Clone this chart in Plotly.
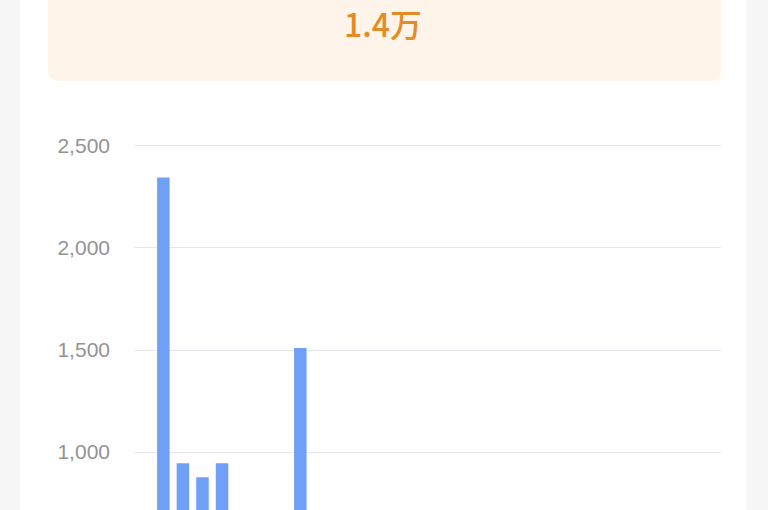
import plotly.graph_objects as go

# daily counts for the month (only the days above ~700 are visible in the crop)
days = [f"{d}日" for d in range(1, 31)]
counts = [520, 2345, 945, 876, 945, 610, 480, 560, 1510, 430,
          390, 350, 300, 280, 320, 260, 240, 300, 310, 270,
          250, 230, 220, 260, 240, 210, 200, 230, 190, 200]

total_wan = round(sum(counts) / 10000, 1)
total_label = f"{total_wan}万"

W, H = 768, 510


def px(x, y):
    return f"{x / W:.5f},{1 - y / H:.5f}"


def rounded_box(x0, y0, x1, y1, r):
    return (f"M{px(x0 + r, y0)} L{px(x1 - r, y0)} Q{px(x1, y0)} {px(x1, y0 + r)} "
            f"L{px(x1, y1 - r)} Q{px(x1, y1)} {px(x1 - r, y1)} "
            f"L{px(x0 + r, y1)} Q{px(x0, y1)} {px(x0, y1 - r)} "
            f"L{px(x0, y0 + r)} Q{px(x0, y0)} {px(x0 + r, y0)} Z")


fig = go.Figure(go.Bar(
    x=days, y=counts,
    marker=dict(color="#70A0F6", line=dict(width=0)),
    hoverinfo="x+y",
))

fig.update_layout(
    width=W, height=H,
    margin=dict(l=0, r=0, t=0, b=0),
    paper_bgcolor="#F7F7F7",
    plot_bgcolor="rgba(0,0,0,0)",
    bargap=0.36,
    showlegend=False,
    font=dict(family="Liberation Sans, Arial, sans-serif"),
    xaxis=dict(domain=[134 / W, 721 / W], showticklabels=False, showgrid=False,
               zeroline=False, showline=False, fixedrange=True),
    yaxis=dict(domain=[0, 1 - 120 / H], range=[716, 2627],
               tickvals=[1000, 1500, 2000, 2500], tickformat=",d",
               tickfont=dict(size=21, color="#939393"),
               ticklabelstandoff=23,
               showgrid=True, gridcolor="#E4E7EC", gridwidth=1,
               zeroline=False, showline=False),
    shapes=[
        dict(type="rect", xref="paper", yref="paper", layer="below",
             x0=20 / W, x1=746 / W, y0=0, y1=1,
             fillcolor="#FFFFFF", line=dict(width=0)),
        dict(type="path", xref="paper", yref="paper", layer="below",
             path=rounded_box(48, -20, 721, 81, 10),
             fillcolor="#FFF4E9", line=dict(width=0)),
    ],
    annotations=[
        dict(text=total_label, xref="paper", yref="paper",
             x=383 / W, y=1 - 23 / H, showarrow=False,
             xanchor="center", yanchor="middle",
             font=dict(size=32, color="#E58B26", weight=500,
                       family="Noto Sans CJK SC, Noto Sans, sans-serif")),
    ],
)

# drop the default page margin so the figure sits flush in the window
fig.write_html("out.html", config={"displayModeBar": False},
               post_script="document.body.style.margin='0';")
